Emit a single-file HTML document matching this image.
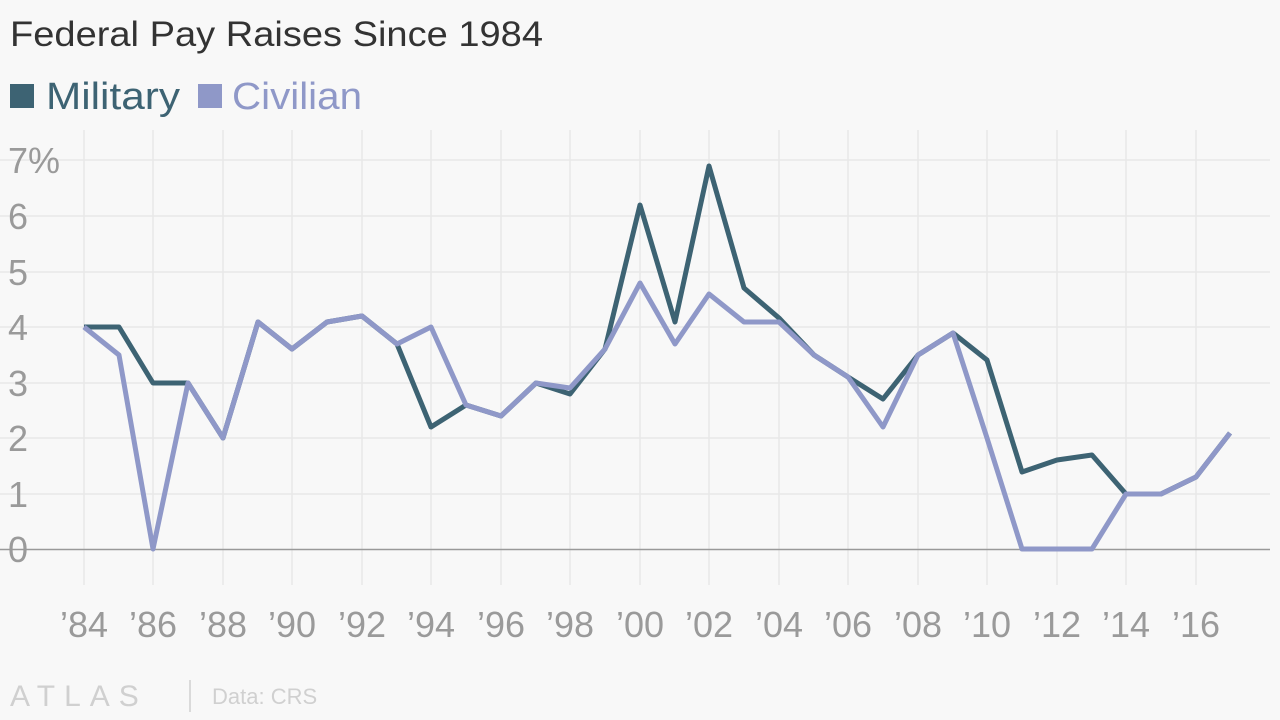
<!DOCTYPE html>
<html><head><meta charset="utf-8"><style>
html,body{margin:0;padding:0;background:#f8f8f8;width:1280px;height:720px;overflow:hidden;font-family:"Liberation Sans",sans-serif}
</style></head><body>
<svg width="1280" height="720" xmlns="http://www.w3.org/2000/svg" font-family="Liberation Sans, sans-serif">
<rect width="1280" height="720" fill="#f8f8f8"/>
<text x="10" y="46" font-size="35" fill="#333" textLength="533" lengthAdjust="spacingAndGlyphs">Federal Pay Raises Since 1984</text>
<rect x="10" y="84" width="24" height="24" fill="#3d6373"/>
<text x="46" y="109" font-size="38" fill="#3d6373" textLength="134" lengthAdjust="spacingAndGlyphs">Military</text>
<rect x="198" y="84" width="24" height="24" fill="#8f98c8"/>
<text x="232" y="109" font-size="38" fill="#8f98c8" textLength="130" lengthAdjust="spacingAndGlyphs">Civilian</text>
<g stroke="#e8e8e8" stroke-width="1.5">
<line x1="0" x2="1270" y1="160" y2="160"/><line x1="0" x2="1270" y1="216" y2="216"/>
<line x1="0" x2="1270" y1="272" y2="272"/><line x1="0" x2="1270" y1="327" y2="327"/>
<line x1="0" x2="1270" y1="383" y2="383"/><line x1="0" x2="1270" y1="438" y2="438"/>
<line x1="0" x2="1270" y1="494" y2="494"/>
<line x1="84" x2="84" y1="130" y2="585"/><line x1="153" x2="153" y1="130" y2="585"/>
<line x1="223" x2="223" y1="130" y2="585"/><line x1="292" x2="292" y1="130" y2="585"/>
<line x1="362" x2="362" y1="130" y2="585"/><line x1="431" x2="431" y1="130" y2="585"/>
<line x1="501" x2="501" y1="130" y2="585"/><line x1="570" x2="570" y1="130" y2="585"/>
<line x1="640" x2="640" y1="130" y2="585"/><line x1="709" x2="709" y1="130" y2="585"/>
<line x1="779" x2="779" y1="130" y2="585"/><line x1="848" x2="848" y1="130" y2="585"/>
<line x1="918" x2="918" y1="130" y2="585"/><line x1="987" x2="987" y1="130" y2="585"/>
<line x1="1057" x2="1057" y1="130" y2="585"/><line x1="1126" x2="1126" y1="130" y2="585"/>
<line x1="1196" x2="1196" y1="130" y2="585"/>
</g>
<line x1="0" x2="1270" y1="549.5" y2="549.5" stroke="#999" stroke-width="1.5"/>
<g font-size="36" fill="#9a9a9a">
<text x="8" y="173">7%</text><text x="8" y="229">6</text><text x="8" y="285">5</text>
<text x="8" y="340">4</text><text x="8" y="396">3</text><text x="8" y="451">2</text>
<text x="8" y="507">1</text><text x="8" y="562">0</text>
</g>
<g font-size="36" fill="#9a9a9a" text-anchor="middle">
<text x="84" y="637">’84</text><text x="153" y="637">’86</text><text x="223" y="637">’88</text>
<text x="292" y="637">’90</text><text x="362" y="637">’92</text><text x="431" y="637">’94</text>
<text x="501" y="637">’96</text><text x="570" y="637">’98</text><text x="640" y="637">’00</text>
<text x="709" y="637">’02</text><text x="779" y="637">’04</text><text x="848" y="637">’06</text>
<text x="918" y="637">’08</text><text x="987" y="637">’10</text><text x="1057" y="637">’12</text>
<text x="1126" y="637">’14</text><text x="1196" y="637">’16</text>
</g>
<polyline fill="none" stroke="#3d6373" stroke-width="5" stroke-linejoin="round" points="84,327 119,327 153,383 188,383 223,438 258,322 292,349 327,322 362,316 397,344 431,427 466,405 501,416 536,383 570,394 605,349 640,205 675,322 709,166 744,288 779,318 814,355 848,377 883,399 918,355 953,333 987,360 1022,472 1057,460 1092,455 1126,494 1161,494 1196,477 1230,433"/>
<polyline fill="none" stroke="#8f98c8" stroke-width="5" stroke-linejoin="round" points="84,327 119,355 153,549 188,383 223,438 258,322 292,349 327,322 362,316 397,344 431,327 466,405 501,416 536,383 570,388 605,349 640,283 675,344 709,294 744,322 779,322 814,355 848,377 883,427 918,355 953,333 987,438 1022,549 1057,549 1092,549 1126,494 1161,494 1196,477 1230,433"/>
<text x="10" y="706" font-size="30" fill="#d0d0d0" letter-spacing="9">ATLAS</text>
<line x1="190" x2="190" y1="680" y2="712" stroke="#d0d0d0" stroke-width="1.5"/>
<text x="212" y="704" font-size="22" fill="#d0d0d0">Data: CRS</text>
</svg>
</body></html>
